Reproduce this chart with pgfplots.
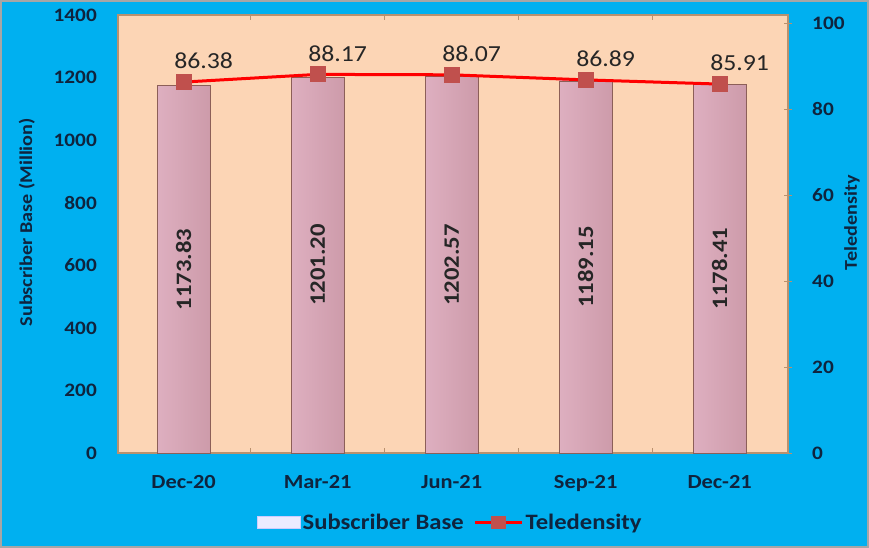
\documentclass[border=0pt]{standalone}
\usepackage{pgfplots}
\pgfplotsset{compat=1.18}
\usepackage{fontspec}
\setmainfont[FakeStretch=1.12]{Carlito}
\definecolor{bgblue}{RGB}{0,176,240}
\definecolor{peach}{RGB}{252,213,181}
\definecolor{navy}{RGB}{15,36,62}
\definecolor{mk}{RGB}{192,80,77}
\definecolor{barL}{RGB}{222,175,192}
\definecolor{barM}{RGB}{238,200,214}
\definecolor{barR}{RGB}{205,155,170}
\definecolor{barE}{RGB}{140,95,88}
\definecolor{frameb}{RGB}{185,145,110}
\newcommand\fs[1]{\fontsize{#1}{#1}\selectfont}
\pgfplotsset{cylbar/.style={ybar, bar width=53pt, left color=barL, middle color=barM, right color=barR, draw=barE, line width=0.8pt}}
\begin{document}
\begin{tikzpicture}[x=1pt,y=1pt]
\fill[bgblue] (0,0) rectangle (869,548);
\draw[gray!70, line width=2pt] (1,1) rectangle (868,547);
\begin{axis}[
  at={(118pt,95pt)}, anchor=south west,
  scale only axis, width=670pt, height=438pt,
  xmin=-0.49, xmax=4.51, ymin=0, ymax=1400,
  axis background/.style={fill=peach},
  axis line style={draw=frameb, line width=1.5pt},
  xtick={0,1,2,3,4},
  xticklabels={Dec-20,Mar-21,Jun-21,Sep-21,Dec-21},
  minor xtick={0.5,1.5,2.5,3.5},
  major x tick style={draw=none},
  minor x tick style={draw=frameb, line width=0.8pt},
  minor tick length=5pt,
  ytick={0,200,...,1400},
  ytick style={draw=none},
  /pgf/number format/assume math mode=true,
  /pgf/number format/1000 sep={},
  xticklabel style={font=\bfseries\fs{20}, text=navy, inner sep=0pt, anchor=north, yshift=-22pt},
  yticklabel style={font=\bfseries\fs{19}, text=navy, inner sep=0pt, anchor=east, xshift=-21pt},
  ylabel={Subscriber Base (Million)},
  every axis y label/.style={at={(axis description cs:-0.136,0.527)}, rotate=90, anchor=center, font=\bfseries\fs{18}, text=navy},
  clip=false,
]
\addplot[cylbar] coordinates {(0,1173.83)};
\addplot[cylbar] coordinates {(1,1201.20)};
\addplot[cylbar] coordinates {(2,1202.57)};
\addplot[cylbar] coordinates {(3,1189.15)};
\addplot[cylbar] coordinates {(4,1178.41)};
\addplot[draw=none, mark=none, nodes near coords, point meta=explicit symbolic,
  every node near coord/.append style={rotate=90, anchor=center, font=\bfseries\fs{22}, text=black!85}]
  coordinates {(0,586.92)[1173.83] (1,600.60)[1201.20] (2,601.29)[1202.57] (3,594.58)[1189.15] (4,589.21)[1178.41]};
\end{axis}
\begin{axis}[
  at={(118pt,95pt)}, anchor=south west,
  scale only axis, width=670pt, height=438pt,
  xmin=-0.49, xmax=4.51, ymin=0, ymax=102,
  hide x axis,
  axis y line*=right,
  y axis line style={draw=none},
  ytick={0,20,...,100},
  ytick style={draw=frameb, line width=0.8pt},
  major tick length=8pt, tick align=center,
  /pgf/number format/assume math mode=true,
  yticklabel style={font=\bfseries\fs{19}, text=navy, inner sep=0pt, anchor=west, xshift=20pt},
  ylabel={Teledensity},
  every axis y label/.style={at={(axis description cs:1.0955,0.526)}, rotate=90, anchor=center, font=\bfseries\fs{18}, text=navy},
  clip=false,
  legend style={at={(0.496,-0.158)}, anchor=center, draw=none, fill=none, font=\bfseries\fs{22}, text=navy,
    legend columns=-1, /tikz/every even column/.append style={column sep=8pt}},
]
\addlegendimage{legend image code/.code={\draw[fill=blue!8, draw=blue!20, line width=0.6pt] (0pt,-6pt) rectangle (43pt,6pt);}}
\addlegendentry{Subscriber Base}
\addplot[red, line width=3pt, mark=square*, mark size=7.5pt, mark options={fill=mk, draw=mk, line width=0pt},
  legend image code/.code={\draw[red, line width=3pt] (0pt,0pt) -- (47pt,0pt); \fill[mk] (17pt,-5pt) rectangle (29pt,5pt);},
  nodes near coords, point meta=y,
  /pgf/number format/fixed, /pgf/number format/precision=2, /pgf/number format/fixed zerofill,
  /pgfplots/every node near coord/.append style={anchor=center, xshift=20pt, yshift=21pt, font=\fs{23}, text=black!85}]
  coordinates {(0,86.38) (1,88.17) (2,88.07) (3,86.89) (4,85.91)};
\addlegendentry{Teledensity}
\end{axis}
\end{tikzpicture}
\end{document}
